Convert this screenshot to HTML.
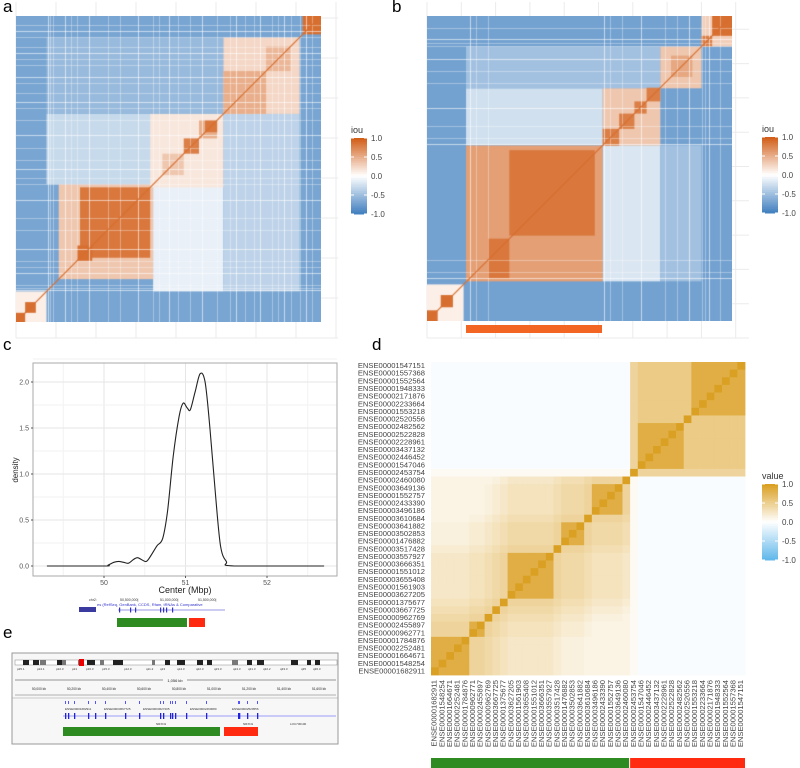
<!DOCTYPE html>
<html><head><meta charset="utf-8">
<style>
html,body{margin:0;padding:0;background:#fff;}
body{width:800px;height:768px;position:relative;overflow:hidden;font-family:"Liberation Sans",sans-serif;}
.lbl{position:absolute;font-size:17px;color:#000;}
canvas{position:absolute;}
svg{position:absolute;left:0;top:0;}
</style></head>
<body>
<div class="lbl" style="left:3px;top:-3px">a</div>
<div class="lbl" style="left:392px;top:-3px">b</div>
<div class="lbl" style="left:3px;top:335px">c</div>
<div class="lbl" style="left:372px;top:335px">d</div>
<div class="lbl" style="left:3px;top:623px">e</div>
<svg id="main" width="800" height="768"></svg>
<canvas id="cva" width="305" height="306" style="left:16px;top:16px"></canvas>
<canvas id="cvb" width="305" height="305" style="left:427px;top:16px"></canvas>
<script>
// ---------- data ----------
const rectsA=[[0,1,0,1,-0.72],[0.1,0.45,0.45,0.68,-0.3],[0.45,0.68,0.1,0.45,-0.12],[0.68,0.93,0.1,0.68,-0.35],[0.1,0.68,0.68,0.93,-0.55],
[0,0.1,0,0.1,0.1],[0.14,0.45,0.14,0.45,0.35],[0.21,0.44,0.21,0.44,0.85],[0.2,0.25,0.2,0.25,0.9],
[0.44,0.68,0.44,0.68,0.15],[0.48,0.55,0.48,0.55,0.35],[0.55,0.6,0.55,0.6,0.8],[0.6,0.66,0.6,0.66,0.5],[0.62,0.66,0.62,0.66,0.85],
[0.68,0.93,0.68,0.93,0.25],[0.68,0.82,0.68,0.82,0.5],[0.82,0.9,0.82,0.9,0.45],[0.94,1,0.94,1,0.9],[0,0.03,0,0.03,0.9],[0.03,0.065,0.03,0.065,0.9]];
const stripesA=[0.105,0.11,0.12,0.16,0.18,0.2,0.24,0.3,0.34,0.4,0.45,0.47,0.5,0.53,0.57,0.61,0.66,0.7,0.72,0.75,0.78,0.8,0.84,0.86,0.88,0.9,0.93,0.95,0.97];
const rectsB=[[0,1,0,1,-0.75],[0.128,0.576,0.576,0.763,-0.25],[0.576,0.765,0.13,0.576,-0.2],[0.765,0.9,0.13,0.576,-0.5],[0.128,0.765,0.763,0.9,-0.5],
[0,0.12,0,0.12,0.1],[0.128,0.576,0.13,0.575,0.6],[0.27,0.55,0.28,0.56,0.85],[0.2,0.27,0.14,0.27,0.85],
[0.576,0.765,0.575,0.763,0.35],[0.576,0.63,0.575,0.63,0.8],[0.63,0.68,0.63,0.68,0.8],[0.68,0.72,0.68,0.72,0.8],[0.72,0.765,0.72,0.765,0.8],
[0.765,0.9,0.763,0.9,0.35],[0.8,0.87,0.8,0.87,0.55],[0.9,1,0.9,1,0.3],[0.935,1,0.935,1,0.9],[0.9,0.935,0.9,0.935,0.8],
[0,0.035,0,0.035,0.9],[0.045,0.085,0.045,0.085,0.9]];
const stripesB=[0.14,0.16,0.2,0.58,0.6,0.64,0.7,0.78,0.82,0.86,0.9,0.91,0.925,0.96];
const densX=[49.3,50.0,50.05,50.12,50.18,50.24,50.3,50.36,50.41,50.46,50.52,50.58,50.65,50.72,50.78,50.85,50.92,50.97,51.02,51.06,51.12,51.18,51.24,51.3,51.37,51.43,51.5,51.6,52.7];
const densY=[0,0,0.01,0.04,0.05,0.04,0.03,0.07,0.09,0.07,0.05,0.12,0.22,0.3,0.6,1.2,1.62,1.77,1.72,1.7,1.9,2.09,2.0,1.5,0.75,0.22,0.05,0,0];
const cXTicks=[50,51,52];
const cYTicks=[0,0.5,1.0,1.5,2.0];
const dIds=["ENSE00001682911","ENSE00001548254","ENSE00001664671","ENSE00002252481","ENSE00001784876","ENSE00000962771","ENSE00002455897","ENSE00000962769","ENSE00003667725","ENSE00001375677","ENSE00003627205","ENSE00001561903","ENSE00003655408","ENSE00001551012","ENSE00003666351","ENSE00003557927","ENSE00003517428","ENSE00001476882","ENSE00003502853","ENSE00003641882","ENSE00003610684","ENSE00003496186","ENSE00002433390","ENSE00001552757","ENSE00003649136","ENSE00002460080","ENSE00002453754","ENSE00001547046","ENSE00002446452","ENSE00003437132","ENSE00002228961","ENSE00002522828","ENSE00002482562","ENSE00002520556","ENSE00001553218","ENSE00002233664","ENSE00002171876","ENSE00001948333","ENSE00001552564","ENSE00001557368","ENSE00001547151"];
const dCluster=[0,0,0,0,0,1,1,2,3,4,5,5,5,5,5,5,6,7,7,7,8,9,9,9,9,10,11,12,12,12,12,12,12,13,14,14,14,14,14,14,14];
const dGroup=[0,0,0,0,0,0,0,0,0,0,0,1,1,1,1];
const dWithin=0.85, dCross=-0.04;

// ---------- helpers ----------
const NS="http://www.w3.org/2000/svg";
const svg=document.getElementById('main');
function el(t,a,p){const e=document.createElementNS(NS,t);for(const k in a)e.setAttribute(k,a[k]);(p||svg).appendChild(e);return e;}
function lerp(a,b,t){return Math.round(a+(b-a)*t);}
function divCol(v){v=Math.max(-1,Math.min(1,v));const c=v>=0?[210,95,25]:[68,130,192];const t=Math.abs(v);return `rgb(${lerp(255,c[0],t)},${lerp(255,c[1],t)},${lerp(255,c[2],t)})`;}
function goldCol(v){v=Math.max(-1,Math.min(1,v));const c=v>=0?[218,160,35]:[100,185,235];const t=Math.abs(v);return `rgb(${lerp(255,c[0],t)},${lerp(255,c[1],t)},${lerp(255,c[2],t)})`;}

function gridBg(x0,y0,w,h,step,name){const g=el('g',{});
 for(let x=x0;x<=x0+w;x+=step)el('line',{x1:x,y1:y0,x2:x,y2:y0+h,stroke:'#ebebeb','stroke-width':1},g);
 for(let y=y0+h;y>=y0;y-=step)el('line',{x1:x0,y1:y,x2:x0+w,y2:y,stroke:'#ebebeb','stroke-width':1},g);}
gridBg(16,2,322,336,40,'grid-a');gridBg(427,2,322,336,34.3,'grid-b');

function drawHeat(id,rects,stripes){const cv=document.getElementById(id);const ctx=cv.getContext('2d');const W=cv.width,H=cv.height;
 const sx=f=>f*W, sy=f=>(1-f)*H;
 rects.forEach(r=>{ctx.fillStyle=divCol(r[4]);ctx.fillRect(sx(r[0]),sy(r[3]),sx(r[1])-sx(r[0]),sy(r[2])-sy(r[3]));});
 stripes.forEach((s,k)=>{ctx.fillStyle='rgba(255,255,255,'+(k%3===0?0.6:0.35)+')';ctx.fillRect(Math.round(sx(s)),0,1,H);ctx.fillRect(0,Math.round(sy(s)),W,1);});
 ctx.strokeStyle=divCol(0.9);ctx.lineWidth=1.2;ctx.beginPath();ctx.moveTo(0,H);ctx.lineTo(W,0);ctx.stroke();}
drawHeat('cva',rectsA,stripesA);drawHeat('cvb',rectsB,stripesB);

const ob=el('rect',{x:466,y:325,width:136,height:8,fill:'#f26522'});

function legend(x,y,title,colFn,name){const g=el('g',{});
 const t=el('text',{x:x,y:y-5,'font-size':9,fill:'#333','font-family':'Liberation Sans, sans-serif'},g);t.textContent=title;
 const n=40,h=76;for(let i=0;i<n;i++){const v=1-2*i/(n-1);el('rect',{x:x,y:y+i*h/n,width:16,height:h/n+0.5,fill:colFn(v)},g);}
 [1,0.5,0,-0.5,-1].forEach(v=>{const yy=y+(1-v)/2*h;const tt=el('text',{x:x+20,y:yy+3,'font-size':8,fill:'#444','font-family':'Liberation Sans, sans-serif'},g);tt.textContent=v.toFixed(1);
  el('line',{x1:x,x2:x+3,y1:yy,y2:yy,stroke:'#fff'},g);el('line',{x1:x+13,x2:x+16,y1:yy,y2:yy,stroke:'#fff'},g);});}
legend(351,138,'iou',divCol,'legend-a');legend(762,137,'iou',divCol,'legend-b');legend(762,484,'value',goldCol,'legend-d');

// ---------- panel c ----------
const cL=33,cR=337,cT=363,cB=576;
const xs=v=>104+(v-50)*81.5, ys=v=>566-v*92;
const cg=el('g',{});
for(let v=49.5;v<=52.6;v+=0.5)el('line',{x1:xs(v),x2:xs(v),y1:cT,y2:cB,stroke:v%1===0?'#e6e6e6':'#f2f2f2'},cg);
for(let v=0;v<=2.26;v+=0.25)el('line',{x1:cL,x2:cR,y1:ys(v),y2:ys(v),stroke:(v*2)%1===0?'#e6e6e6':'#f2f2f2'},cg);
el('rect',{x:cL,y:cT,width:cR-cL,height:cB-cT,fill:'none',stroke:'#aaa'},cg);
cXTicks.forEach(v=>{const t=el('text',{x:xs(v),y:cB+9,'font-size':7,fill:'#555','text-anchor':'middle'},cg);t.textContent=v;el('line',{x1:xs(v),x2:xs(v),y1:cB,y2:cB+2,stroke:'#555'},cg);});
cYTicks.forEach(v=>{const t=el('text',{x:cL-4,y:ys(v)+2.5,'font-size':7,fill:'#555','text-anchor':'end'},cg);t.textContent=v.toFixed(1);el('line',{x1:cL-2,x2:cL,y1:ys(v),y2:ys(v),stroke:'#555'},cg);});
const xt=el('text',{x:185,y:593,'font-size':9,fill:'#222','text-anchor':'middle'},cg);xt.textContent='Center (Mbp)';
const yt=el('text',{x:0,y:0,'font-size':8,fill:'#222','text-anchor':'middle',transform:'translate(18,470) rotate(-90)'},cg);yt.textContent='density';
// smooth path (Catmull-Rom)
const P=densX.map((x,i)=>[xs(x),ys(densY[i])]);
let d='M'+P[0][0].toFixed(1)+','+P[0][1].toFixed(1);
for(let i=0;i<P.length-1;i++){const p0=P[Math.max(0,i-1)],p1=P[i],p2=P[i+1],p3=P[Math.min(P.length-1,i+2)];
 const c1=[p1[0]+(p2[0]-p0[0])/6,p1[1]+(p2[1]-p0[1])/6],c2=[p2[0]-(p3[0]-p1[0])/6,p2[1]-(p3[1]-p1[1])/6];
 d+=`C${c1[0].toFixed(1)},${Math.min(566,c1[1]).toFixed(1)} ${c2[0].toFixed(1)},${Math.min(566,c2[1]).toFixed(1)} ${p2[0].toFixed(1)},${p2[1].toFixed(1)}`;}
const dens=el('path',{d:d,fill:'none',stroke:'#222','stroke-width':1.1},cg);

const bs=el('g',{});
[['chr2:',89],['50,500,000|',120],['51,000,000|',160],['51,500,000|',198]].forEach(a=>{const t=el('text',{x:a[1],y:601,'font-size':3.5,fill:'#333'},bs);t.textContent=a[0];});
const bt=el('text',{x:97,y:606,'font-size':4,fill:'#33c'},bs);bt.textContent='es (RefSeq, GenBank, CCDS, Rfam, tRNAs & Comparative';
el('rect',{x:79,y:607,width:17,height:5,fill:'#3a3aa0'},bs);
el('line',{x1:118,x2:225,y1:610,y2:610,stroke:'#33c','stroke-width':0.6},bs);
[119,130,135,160,163,166,172].forEach(x=>el('rect',{x:x,y:607.5,width:1.2,height:5,fill:'#33c'},bs));
el('rect',{x:117,y:618,width:70,height:9,fill:'#2e8b22'},bs);el('rect',{x:189,y:618,width:16,height:9,fill:'#ff2a10'},bs);

// ---------- panel d ----------
const n=dIds.length, dL=431, dT=362, cw=314/n, ch=313/n;
function dVal(i,j){if(i===j)return 1;const a=dCluster[i],b=dCluster[j];if(a===b)return dWithin;
 const ga=dGroup[a],gb=dGroup[b];
 if(a===11||b===11){const o=a===11?b:a;return dGroup[o]===1?0.45:0.05;}
 if(ga!==gb)return dCross;
 if(ga===1)return 0.55;
 return Math.max(0.12,0.5-0.05*Math.abs(a-b));}
const dg=el('g',{});
for(let i=0;i<n;i++)for(let r=0;r<n;r++){const j=n-1-r;el('rect',{x:(dL+i*cw).toFixed(2),y:(dT+r*ch).toFixed(2),width:(cw+0.4).toFixed(2),height:(ch+0.4).toFixed(2),fill:goldCol(dVal(i,j))},dg);}
for(let r=0;r<n;r++){const t=el('text',{x:425,y:dT+r*ch+ch*0.8,'font-size':7.6,fill:'#444','text-anchor':'end'},dg);t.textContent=dIds[n-1-r];}
for(let i=0;i<n;i++){const x=dL+i*cw+cw*0.75;const t=el('text',{x:0,y:0,'font-size':7.6,fill:'#444','text-anchor':'end',transform:`translate(${x.toFixed(1)},680) rotate(-90)`},dg);t.textContent=dIds[i];}
const gBar=el('rect',{x:dL,y:758,width:26*cw-1,height:10,fill:'#2e8b22'});
const rBar=el('rect',{x:dL+26*cw,y:758,width:15*cw,height:10,fill:'#ff2a10'});

// ---------- panel e ----------
const eg=el('g',{});
el('rect',{x:12,y:653,width:326,height:91,fill:'#f7f7f7',stroke:'#999'},eg);
el('rect',{x:15,y:660,width:322,height:5,fill:'#fff',stroke:'#888','stroke-width':0.5},eg);
[[23,6],[33,6],[40,6],[57,6],[62,4],[78,3],[87,8],[100,4],[113,10],[152,3],[165,5],[177,8],[197,6],[207,5],[232,6],[247,5],[257,7],[291,7],[307,4],[315,5]].forEach(a=>el('rect',{x:a[0],y:660,width:a[1],height:5,fill:a[0]%2?'#222':'#777'},eg));
el('rect',{x:79,y:659,width:5,height:7,fill:'#e00'},eg);
[['p25.1',17],['p24.1',37],['p22.3',56],['p21',72],['p16.3',86],['p15.3',102],['p12.3',124],['q11.2',146],['q13',160],['q14.3',177],['q22.3',196],['q23.3',214],['q24.3',233],['q31.3',248],['q32.2',263],['q33.3',280],['q35',301],['q36.3',313]].forEach(a=>{const t=el('text',{x:a[1],y:670,'font-size':3,fill:'#333'},eg);t.textContent=a[0];});
el('line',{x1:15,x2:336,y1:680,y2:680,stroke:'#333','stroke-width':0.5},eg);
el('rect',{x:163,y:677,width:24,height:6,fill:'#f7f7f7'},eg);const kt=el('text',{x:175,y:682,'font-size':4,'text-anchor':'middle',fill:'#222'},eg);kt.textContent='1,056 kb';
['50,000 kb','50,200 kb','50,400 kb','50,600 kb','50,800 kb','51,000 kb','51,200 kb','51,400 kb','51,600 kb'].forEach((s,i)=>{const x=39+i*35;const t=el('text',{x:x,y:690,'font-size':3.2,'text-anchor':'middle',fill:'#222'},eg);t.textContent=s;});
el('line',{x1:15,x2:336,y1:695,y2:695,stroke:'#444','stroke-width':0.4},eg);
el('line',{x1:12,x2:338,y1:698,y2:698,stroke:'#999','stroke-width':0.5},eg);
el('line',{x1:63,x2:336,y1:716,y2:716,stroke:'#44f','stroke-width':0.6},eg);
[65,68,74,88,95,105,125,139,160,163,170,172,175,186,206,238,239,247,257].forEach(x=>{el('rect',{x:x,y:713,width:1.3,height:6,fill:'#22d'},eg);el('rect',{x:x,y:701,width:1,height:3,fill:'#55f'},eg);});
[['ENSE00001682911',65],['ENSE00003667725',104],['ENSE00003627205',143],['ENSE00002460080',190],['ENSE00002520556',232]].forEach(a=>{const t=el('text',{x:a[1],y:710,'font-size':3,fill:'#333'},eg);t.textContent=a[0];});
[['NRXN1',156],['NRXN1',243],['LOC730100',290]].forEach(a=>{const t=el('text',{x:a[1],y:725,'font-size':3,fill:'#333'},eg);t.textContent=a[0];});
el('rect',{x:63,y:727,width:157,height:9,fill:'#2e8b22'},eg);el('rect',{x:224,y:727,width:34,height:9,fill:'#ff2a10'},eg);
</script>
</body></html>
